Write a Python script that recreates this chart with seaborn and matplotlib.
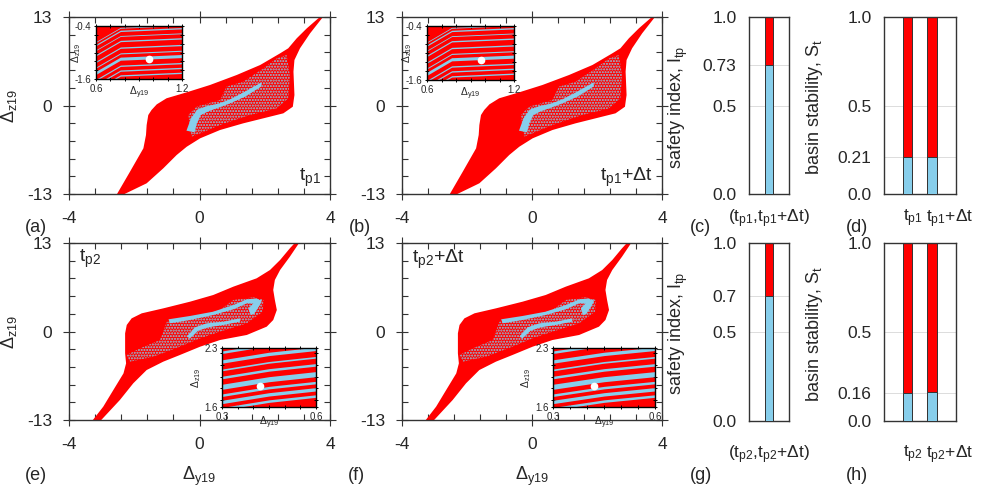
import numpy as np
import pandas as pd
import matplotlib
matplotlib.use('Agg')
import matplotlib.pyplot as plt
import seaborn as sns
from matplotlib.ticker import MultipleLocator

# ---------------- data ----------------
# basin outline at t_p1 (panels a, b): (Δy19, Δz19)
basin1_y = [-2.54, -2.13, -1.72, -1.64, -1.62, -1.57, -1.47, -1.31, -1.01, -0.39, 0.32, 1.14, 1.86, 2.47,
            2.72, 2.98, 3.29, 3.64, 3.74,
            3.80, 3.39, 3.08, 2.91, 2.88, 2.91, 2.86, 2.57, 1.96, 1.34, 0.63, 0.02, -0.39, -0.70, -1.11,
            -1.62, -2.34]
basin1_z = [-13.1, -9.72, -6.29, -4.33, -2.87, -1.40, -0.66, 0.17, 1.06, 1.94, 3.01, 4.48, 5.95, 7.66,
            8.40, 9.87, 11.34, 12.80, 13.1,
            13.1, 10.6, 8.40, 6.68, 4.97, 1.54, -0.18, -1.15, -1.88, -2.62, -3.60, -4.82, -6.05, -7.27,
            -9.23, -11.43, -13.1]
speck1_y = [-0.29, -0.34, -0.09, 0.63, 0.83, 1.34, 1.96, 2.37, 2.67, 2.77, 2.72, 2.37, 1.55, 0.63, 0.02, -0.24]
speck1_z = [-3.35, -1.39, -0.17, 0.81, 2.77, 3.50, 5.46, 6.93, 7.42, 4.48, 1.05, -0.42, -1.39, -2.86, -4.09, -4.58]
streak1_y = [-0.40, -0.26, -0.07, 0.22, 0.60, 0.93, 1.30, 1.75, 1.90, 1.90, 1.40, 0.93, 0.60, 0.30, 0.04, -0.08, -0.15]
streak1_z = [-3.70, -1.88, -0.60, -0.10, 0.30, 0.90, 1.80, 3.00, 3.40, 2.80, 1.30, 0.30, -0.30, -0.80, -1.40, -2.60, -3.94]

# basin outline at t_p2 (panels e, f)
basin2_y = [-3.30, -2.95, -2.64, -2.33, -2.25, -2.28, -2.28, -2.23, -2.08, -1.77, -1.11, -0.29, 0.42, 1.04,
            1.75, 2.16, 2.47, 2.77, 2.96,
            3.08, 2.77, 2.47, 2.31, 2.26, 2.31, 2.37, 2.26, 2.06, 1.45, 0.63, 0.02, -0.60, -1.11, -1.62,
            -2.03, -2.44, -3.05]
basin2_z = [-13.2, -11.04, -8.59, -6.15, -4.68, -3.21, -0.27, 0.96, 1.93, 2.67, 3.40, 4.38, 5.36, 6.59,
            7.81, 9.03, 10.50, 12.22, 13.2,
            13.2, 10.99, 9.03, 7.57, 6.10, 4.63, 3.16, 1.69, 0.71, -0.51, -1.25, -2.23, -3.45, -4.43, -5.66,
            -7.61, -10.06, -13.2]
speck2_y = [-2.23, -1.82, -1.21, -1.00, -0.29, 0.63, 1.04, 1.65, 1.96, 1.94, 1.45, 0.63, 0.02, -0.60, -1.41, -2.13]
speck2_z = [-3.45, -2.47, -1.25, 1.44, 1.93, 3.16, 4.63, 5.02, 4.63, 2.91, 1.20, -0.02, -1.00, -2.23, -3.70, -4.43]
streak2a_y = [-0.95, -0.29, 0.42, 1.04, 1.45, 1.75, 1.91, 1.85, 1.45, 1.04, 0.42, -0.29, -0.90]
streak2a_z = [1.79, 2.28, 2.91, 3.89, 4.72, 4.87, 4.38, 4.04, 4.14, 3.26, 2.42, 1.69, 1.20]
streak2b_y = [-0.39, -0.14, 0.22, 0.73, 1.24, 1.24, 0.73, 0.27, -0.04, -0.29]
streak2b_z = [-0.76, 0.61, 1.20, 1.44, 1.93, 1.44, 0.96, 0.61, 0.12, -1.00]
streak2c_y = [1.50, 1.70, 1.91, 1.85, 1.67, 1.57]
streak2c_z = [3.40, 4.38, 4.73, 3.89, 2.57, 2.42]

# inset stripes, t_p1 (Δy19 in [0.6,1.2], Δz19 in [-1.6,-0.4])
ins1_x = [0.6, 0.77, 1.2]
ins1_shift = [-0.32, 0.0, 0.06]
ins1_levels = [-0.44, -0.51, -0.625, -0.74, -0.89, -1.02, -1.14, -1.30, -1.41, -1.52]
ins1_widths = [0.02, 0.03, 0.02, 0.03, 0.03, 0.025, 0.07, 0.03, 0.03, 0.03]
ins1_dot = (0.97, -1.15)

# inset stripes, t_p2 (Δy19 in [0.3,0.6], Δz19 in [1.6,2.3])
ins2_x = [0.3, 0.45, 0.6]
ins2_rise = [0.0, 0.09, 0.15]
ins2_levels = [2.25, 2.14, 2.04, 1.95, 1.84, 1.74, 1.66, 1.58]
ins2_widths = [0.03, 0.04, 0.02, 0.03, 0.06, 0.03, 0.04, 0.03]
ins2_dot = (0.42, 1.85)

# bar panels
safety_tp1 = [0.73]
safety_tp2 = [0.70]
bs_tp1 = [0.21, 0.21]
bs_tp2 = [0.16, 0.164]
total = 1.0

# ---------------- style ----------------
sns.set_style('white')
plt.rcParams['font.family'] = ['Liberation Sans', 'DejaVu Sans']
plt.rcParams['mathtext.fontset'] = 'custom'
plt.rcParams['mathtext.rm'] = 'Liberation Sans'
plt.rcParams['mathtext.it'] = 'Liberation Sans:italic'
plt.rcParams['mathtext.sf'] = 'Liberation Sans'
plt.rcParams['hatch.linewidth'] = 1.0

RED = '#ff0000'
BLUE = '#87ceeb'
FRAME = '#333333'

W, H = 981, 491
fig = plt.figure(figsize=(W / 100, H / 100), dpi=100)


def rect(l, t, r, b):
    return [l / W, 1 - b / H, (r - l) / W, (b - t) / H]


def style_frame(ax, lw=1.0, color=FRAME):
    for s in ax.spines.values():
        s.set_color(color)
        s.set_linewidth(lw)
        s.set_visible(True)


def basin_panel(r, by, bz, sy, sz, streaks, tag, tag_xy, tag_ha, tag_va, ylab, xlab):
    ax = fig.add_axes(rect(*r))
    ax.fill(by, bz, color=RED, lw=0, zorder=1)
    ax.fill(sy, sz, facecolor=RED, edgecolor=BLUE, hatch='......', lw=0, zorder=2)
    for yy, zz in streaks:
        ax.fill(yy, zz, color=BLUE, lw=0, zorder=3)
    ax.set_xlim(-4, 4)
    ax.set_ylim(-13, 13)
    ax.set_xticks([-4, 0, 4])
    ax.set_xticklabels(['-4', '0', '4'])
    ax.set_yticks([-13, 0, 13])
    ax.set_yticklabels(['-13', '0', '13'])
    ax.xaxis.set_minor_locator(MultipleLocator(0.8))
    ax.yaxis.set_minor_locator(MultipleLocator(2.6))
    ax.tick_params(which='major', direction='inout', length=8, bottom=True, left=True, top=True, right=True,
                   labelsize=12.5, pad=8, color=FRAME, width=0.8)
    ax.tick_params(which='minor', direction='in', length=4, bottom=True, left=True, top=True, right=True,
                   color=FRAME, width=0.8)
    style_frame(ax)
    if ylab:
        ax.set_ylabel(r'$\Delta_{\mathrm{z19}}$', fontsize=13)
        ax.yaxis.set_label_coords(-0.19, 0.5)
    if xlab:
        ax.set_xlabel(r'$\Delta_{\mathrm{y19}}$', fontsize=13)
        ax.xaxis.set_label_coords(0.5, -0.255)
    ax.text(tag_xy[0], tag_xy[1], tag, transform=ax.transAxes, ha=tag_ha, va=tag_va, fontsize=14)
    return ax


def inset(r, xs, offs, levels, widths, dot, xlim, ylim, xlabs, ylabs, xminor, yminor, lab_x, lab_y):
    ax = fig.add_axes(rect(*r))
    ax.set_facecolor(RED)
    for lvl, w in zip(levels, widths):
        ax.fill_between(xs, np.add(offs, lvl - w / 2), np.add(offs, lvl + w / 2), color=BLUE, lw=0)
    ax.plot([dot[0]], [dot[1]], 'o', color='white', ms=4.5, mec='white')
    ax.set_xlim(*xlim)
    ax.set_ylim(*ylim)
    ax.set_xticks(list(xlim))
    ax.set_xticklabels(xlabs)
    ax.set_yticks(list(ylim))
    ax.set_yticklabels(ylabs)
    ax.xaxis.set_minor_locator(MultipleLocator(xminor))
    ax.yaxis.set_minor_locator(MultipleLocator(yminor))
    ax.tick_params(which='both', direction='inout', length=3.5, bottom=True, left=True, top=True, right=True,
                   labelsize=7, pad=1.5, color='black', width=0.7)
    style_frame(ax, 1.0, 'black')
    ax.set_xlabel(r'$\Delta_{\mathrm{y19}}$', fontsize=7.5)
    ax.xaxis.set_label_coords(0.5, lab_y)
    ax.set_ylabel(r'$\Delta_{\mathrm{z19}}$', fontsize=7.5)
    ax.yaxis.set_label_coords(lab_x, 0.5)
    return ax


def bar_panel(r, cats, stable, width, xlim, yticks, ylabs, ylabel, ylab_x, xlabels, label_pos, label_ha, pad):
    ax = fig.add_axes(rect(*r))
    df = pd.DataFrame({'case': cats, 'total': [total] * len(cats), 'stable': stable})
    sns.barplot(data=df, x='case', y='total', color=RED, width=width, saturation=1,
                edgecolor=FRAME, linewidth=0.7, ax=ax, zorder=2)
    sns.barplot(data=df, x='case', y='stable', color=BLUE, width=width, saturation=1,
                edgecolor=FRAME, linewidth=0.7, ax=ax, zorder=3)
    ax.set_xlim(*xlim)
    ax.set_ylim(0, 1.0)
    ax.set_yticks(yticks)
    ax.set_yticklabels(ylabs)
    ax.set_xticks(label_pos)
    ax.set_xticklabels(xlabels, ha=label_ha)
    ax.yaxis.grid(True, color='#dcdcdc', lw=0.7)
    ax.set_axisbelow(True)
    ax.tick_params(axis='both', length=0, labelsize=12.5)
    ax.tick_params(axis='y', pad=9)
    ax.tick_params(axis='x', pad=pad)
    style_frame(ax)
    ax.set_xlabel('')
    ax.set_ylabel(ylabel, fontsize=13)
    ax.yaxis.set_label_coords(ylab_x, 0.49)
    return ax


tp1 = 't$_{\\mathrm{p1}}$'
tp2 = 't$_{\\mathrm{p2}}$'

# ---- basin panels ----
basin_panel((69, 17, 330, 194), basin1_y, basin1_z, speck1_y, speck1_z, [(streak1_y, streak1_z)],
            tp1, (0.965, 0.03), 'right', 'bottom', True, False)
basin_panel((402, 17, 662, 194), basin1_y, basin1_z, speck1_y, speck1_z, [(streak1_y, streak1_z)],
            tp1 + '+Δt', (0.965, 0.03), 'right', 'bottom', False, False)
streaks2 = [(streak2a_y, streak2a_z), (streak2b_y, streak2b_z), (streak2c_y, streak2c_z)]
basin_panel((69, 243, 330, 420), basin2_y, basin2_z, speck2_y, speck2_z, streaks2,
            tp2, (0.04, 0.975), 'left', 'top', True, True)
basin_panel((402, 243, 662, 420), basin2_y, basin2_z, speck2_y, speck2_z, streaks2,
            tp2 + '+Δt', (0.04, 0.975), 'left', 'top', False, True)

# ---- insets ----
inset((96, 26, 182, 79), ins1_x, ins1_shift, ins1_levels, ins1_widths, ins1_dot,
      (0.6, 1.2), (-1.6, -0.4), ['0.6', '1.2'], ['-1.6', '-0.4'], 0.1, 0.2, -0.15, -0.1)
inset((427, 26, 514, 80), ins1_x, ins1_shift, ins1_levels, ins1_widths, ins1_dot,
      (0.6, 1.2), (-1.6, -0.4), ['0.6', '1.2'], ['-1.6', '-0.4'], 0.1, 0.2, -0.15, -0.1)
inset((222, 348, 316, 407), ins2_x, ins2_rise, ins2_levels, ins2_widths, ins2_dot,
      (0.3, 0.6), (1.6, 2.3), ['0.3', '0.6'], ['1.6', '2.3'], 0.05, 0.14, -0.2, -0.13)
inset((553, 348, 655, 407), ins2_x, ins2_rise, ins2_levels, ins2_widths, ins2_dot,
      (0.3, 0.6), (1.6, 2.3), ['0.3', '0.6'], ['1.6', '2.3'], 0.05, 0.14, -0.2, -0.13)

# ---- bar panels ----
bw1 = 0.2
bw2 = 0.37
bar_panel((749, 17, 789, 194), ['pair'], safety_tp1, bw1, (-0.5, 0.5), [0.0, 0.5, 0.73, 1.0],
          ['0.0', '0.5', '0.73', '1.0'], 'safety index, I$_{\\mathrm{tp}}$', -1.475,
          ['(' + tp1 + ',' + tp1 + '+Δt)'], [0], 'center', 10)
bar_panel((884, 17, 956, 194), ['a', 'b'], bs_tp1, bw2, (-0.955, 1.975), [0.0, 0.21, 0.5, 1.0],
          ['0.0', '0.21', '0.5', '1.0'], 'basin stability, S$_{\\mathrm{t}}$', -0.82,
          [tp1, tp1 + '+Δt'], [-bw2 / 2, 1 - bw2 / 2 - 0.05], 'left', 10)
bar_panel((749, 243, 789, 421), ['pair'], safety_tp2, bw1, (-0.5, 0.5), [0.0, 0.5, 0.7, 1.0],
          ['0.0', '0.5', '0.7', '1.0'], 'safety index, I$_{\\mathrm{tp}}$', -1.475,
          ['(' + tp2 + ',' + tp2 + '+Δt)'], [0], 'center', 16)
bar_panel((884, 243, 956, 421), ['a', 'b'], bs_tp2, bw2, (-0.955, 1.975), [0.0, 0.16, 0.5, 1.0],
          ['0.0', '0.16', '0.5', '1.0'], 'basin stability, S$_{\\mathrm{t}}$', -0.82,
          [tp2, tp2 + '+Δt'], [-bw2 / 2, 1 - bw2 / 2 - 0.05], 'left', 16)

# ---- panel letters ----
for letter, (px, py) in {'(a)': (36, 228), '(b)': (360, 228), '(c)': (700, 228), '(d)': (857, 228),
                         '(e)': (36, 476), '(f)': (356, 476), '(g)': (701, 476), '(h)': (857, 476)}.items():
    fig.text(px / W, 1 - py / H, letter, ha='center', va='center', fontsize=13)

fig.savefig('out.png', dpi=100)
